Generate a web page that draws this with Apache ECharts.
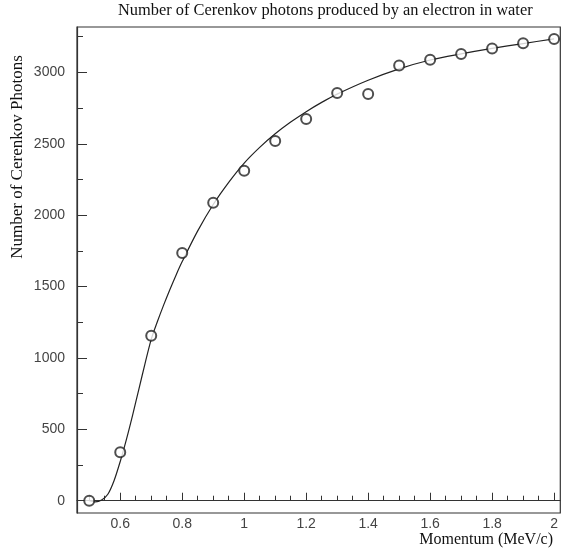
<!DOCTYPE html>
<html>
<head>
<meta charset="utf-8">
<script src="https://cdn.jsdelivr.net/npm/echarts@6/dist/echarts.min.js"></script>
<style>
  html, body { margin: 0; padding: 0; background: #fff; }
  #chart { width: 561px; height: 552px; }
</style>
</head>
<body>
<div id="chart"></div>
<script>
// measured points
const momentum = [0.5, 0.6, 0.7, 0.8, 0.9, 1.0, 1.1, 1.2, 1.3, 1.4, 1.5, 1.6, 1.7, 1.8, 1.9, 2.0];
const photons = [0, 340, 1155, 1735, 2087, 2311, 2520, 2674, 2855, 2848, 3049, 3089, 3129, 3168, 3205, 3234];

// fitted curve
const fitMomentum = [0.5, 0.52, 0.54, 0.56, 0.58, 0.6, 0.62, 0.64, 0.66, 0.68, 0.7, 0.72, 0.74, 0.76, 0.78, 0.8,
  0.85, 0.9, 0.95, 1.0, 1.05, 1.1, 1.15, 1.2, 1.25, 1.3, 1.4, 1.5, 1.6, 1.7, 1.8, 1.9, 2.0];
const fitPhotons = [0, -8, 5, 45, 140, 275, 430, 600, 780, 960, 1130, 1255, 1370, 1478, 1580, 1675,
  1890, 2075, 2230, 2365, 2475, 2570, 2652, 2725, 2790, 2848, 2945, 3025, 3087, 3130, 3168, 3202, 3235];

const xMajorTicks = [0.6, 0.8, 1, 1.2, 1.4, 1.6, 1.8, 2];
const xMinorTicks = [0.5, 0.55, 0.65, 0.7, 0.75, 0.85, 0.9, 0.95, 1.05, 1.1, 1.15, 1.25, 1.3, 1.35,
  1.45, 1.5, 1.55, 1.65, 1.7, 1.75, 1.85, 1.9, 1.95];
const yMajorTicks = [0, 500, 1000, 1500, 2000, 2500, 3000];
const yMinorTicks = [250, 750, 1250, 1750, 2250, 2750, 3250];

const titleText = "Number of Cerenkov photons produced by an electron in water";
const xTitle = "Momentum (MeV/c)";
const yTitle = "Number of Cerenkov Photons";

const chart = echarts.init(document.getElementById("chart"), null, { renderer: "canvas" });

const serif = "'Liberation Serif', 'DejaVu Serif', serif";
const sans = "'Liberation Sans', Arial, sans-serif";
const X_MIN = 0.4605, X_MAX = 2.02, Y_MIN = -86, Y_MAX = 3318;

function xAxisDef(ticks, len, withLabels) {
  return {
    type: "value", min: X_MIN, max: X_MAX, position: "bottom",
    axisLine: { show: withLabels, lineStyle: { color: "#333", width: 1.2 } },
    splitLine: { show: false },
    axisTick: { show: true, inside: true, length: len, customValues: ticks, lineStyle: { color: "#333" } },
    axisLabel: withLabels
      ? { customValues: ticks, margin: 4, fontFamily: sans, fontSize: 14, color: "#444",
          formatter: v => String(v) }
      : { show: false }
  };
}
function yAxisDef(ticks, len, withLabels) {
  return {
    type: "value", min: Y_MIN, max: Y_MAX, position: "left",
    axisLine: { show: withLabels, lineStyle: { color: "#333", width: 1.2 } },
    splitLine: { show: false },
    axisTick: { show: true, inside: true, length: len, customValues: ticks, lineStyle: { color: "#333" } },
    axisLabel: withLabels
      ? { customValues: ticks, margin: 12, fontFamily: sans, fontSize: 14, color: "#444",
          formatter: v => String(v) }
      : { show: false }
  };
}

chart.setOption({
  backgroundColor: "#fff",
  animation: false,
  title: {
    text: titleText, left: 118, top: 3, padding: 0,
    textStyle: { fontFamily: serif, fontSize: 16.4, fontWeight: "normal", color: "#111" }
  },
  grid: { left: 77, top: 27, width: 486, height: 486, show: true, borderColor: "#333", borderWidth: 1.2 },
  xAxis: [xAxisDef(xMajorTicks, 8, true), xAxisDef(xMinorTicks, 5, false)],
  yAxis: [yAxisDef(yMajorTicks, 10, true), yAxisDef(yMinorTicks, 6, false)],
  graphic: [
    {
      type: "text", right: 8, top: 532,
      style: { text: xTitle, font: "16px " + serif, fill: "#111" }
    },
    {
      type: "text", x: 18, y: 157, rotation: Math.PI / 2,
      style: { text: yTitle, font: "17px " + serif, fill: "#111", align: "center", verticalAlign: "middle" }
    }
  ],
  series: [
    {
      type: "line",
      data: fitMomentum.map((x, i) => [x, fitPhotons[i]]),
      smooth: 0.3,
      showSymbol: false,
      lineStyle: { color: "#222", width: 1.2 },
      z: 2
    },
    {
      type: "scatter",
      data: momentum.map((x, i) => [x, photons[i]]),
      symbol: "emptyCircle",
      symbolSize: 10,
      itemStyle: { color: "#222", borderWidth: 1.3 },
      z: 3
    }
  ]
});
</script>
</body>
</html>
